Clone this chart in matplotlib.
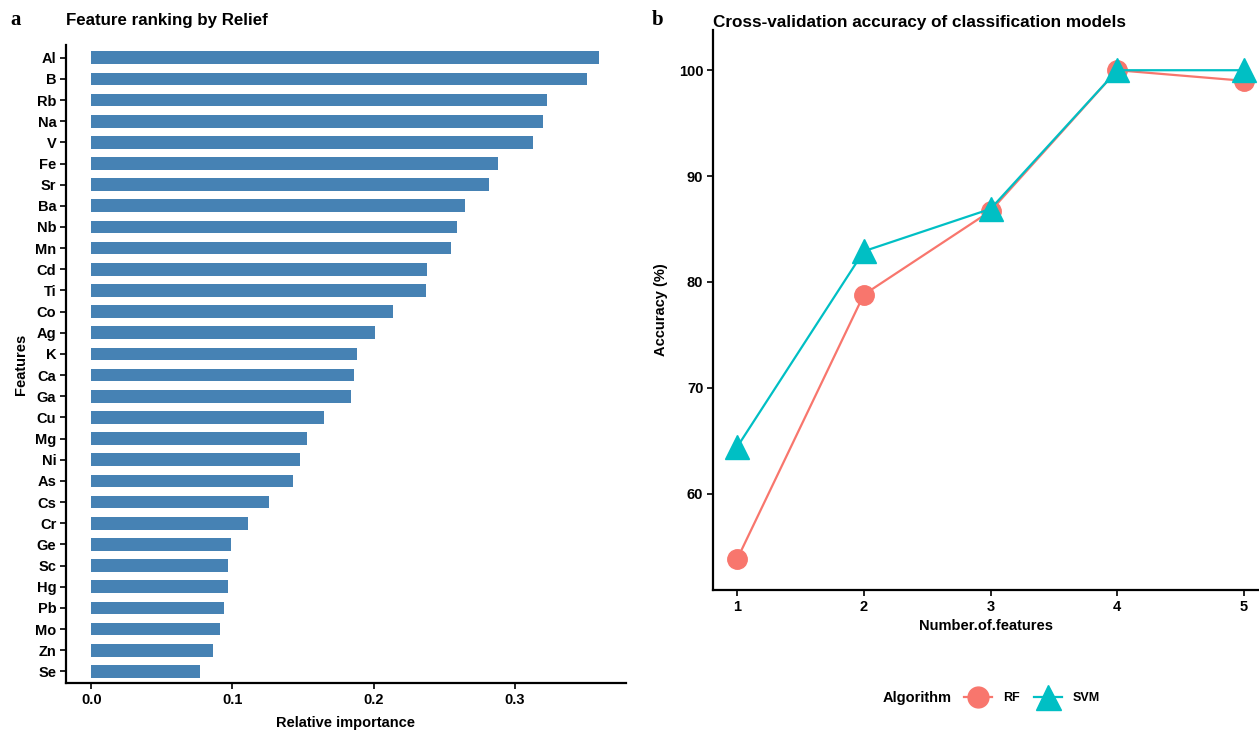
import matplotlib.pyplot as plt
from matplotlib.lines import Line2D

# feature ranking by Relief (panel a)
features = ["Al", "B", "Rb", "Na", "V", "Fe", "Sr", "Ba", "Nb", "Mn", "Cd", "Ti", "Co", "Ag", "K",
            "Ca", "Ga", "Cu", "Mg", "Ni", "As", "Cs", "Cr", "Ge", "Sc", "Hg", "Pb", "Mo", "Zn", "Se"]
importance = [0.360, 0.351, 0.323, 0.320, 0.313, 0.288, 0.282, 0.265, 0.259, 0.255, 0.238, 0.237,
              0.214, 0.201, 0.188, 0.186, 0.184, 0.165, 0.153, 0.148, 0.143, 0.126, 0.111, 0.099,
              0.097, 0.097, 0.094, 0.091, 0.086, 0.077]

# cross-validation accuracy (panel b)
n_features = [1, 2, 3, 4, 5]
acc_rf = [53.8, 78.8, 86.7, 100.0, 99.0]
acc_svm = [64.4, 82.9, 86.9, 100.0, 100.0]

RF_COL = "#F8766D"
SVM_COL = "#00BFC4"
BAR_COL = "#4682B4"

plt.rcParams["font.family"] = ["Liberation Sans", "DejaVu Sans"]
plt.rcParams["font.weight"] = "bold"

W, H = 1259, 730
fig = plt.figure(figsize=(W / 100, H / 100), dpi=100)


def px_axes(x0, y0, x1, y1):
    return fig.add_axes([x0 / W, 1 - y1 / H, (x1 - x0) / W, (y1 - y0) / H])


def style(ax):
    for s in ["top", "right"]:
        ax.spines[s].set_visible(False)
    for s in ["left", "bottom"]:
        ax.spines[s].set_linewidth(1.6)
    ax.tick_params(length=4, width=1.2, labelsize=10.5, pad=3)
    for lab in ax.get_xticklabels() + ax.get_yticklabels():
        lab.set_fontweight("bold")


# ---- panel a
ax1 = px_axes(66, 45, 626, 683)
ypos = list(range(len(features)))
ax1.barh(ypos, importance, height=0.6, color=BAR_COL)
ax1.set_yticks(ypos)
ax1.set_yticklabels(features)
ax1.set_ylim(len(features) - 0.45, -0.6)
ax1.set_xlim(-0.018, 0.379)
ax1.set_xticks([0.0, 0.1, 0.2, 0.3])
ax1.set_xticklabels(["0.0", "0.1", "0.2", "0.3"])
style(ax1)
ax1.set_xlabel("Relative importance", fontsize=10.5, fontweight="bold", labelpad=7)
ax1.set_ylabel("Features", fontsize=10.5, fontweight="bold", labelpad=5)

fig.text(66 / W, 1 - 20 / H, "Feature ranking by Relief", fontsize=12.2, fontweight="bold",
         va="center", ha="left")
fig.text(10 / W, 1 - 20 / H, "a", fontsize=15, fontweight="bold", family="Liberation Serif",
         va="center", ha="left")

# ---- panel b
ax2 = px_axes(713, 30, 1258, 590)
ax2.plot(n_features, acc_rf, color=RF_COL, lw=1.6, marker="o", ms=14, zorder=3)
ax2.plot(n_features, acc_svm, color=SVM_COL, lw=1.6, marker="^", ms=17, zorder=4)
ax2.set_xlim(0.81, 5.11)
ax2.set_ylim(50.9, 103.8)
ax2.set_xticks(n_features)
ax2.set_yticks([60, 70, 80, 90, 100])
style(ax2)
ax2.set_xlabel("Number.of.features", fontsize=10.5, fontweight="bold", labelpad=4)
ax2.set_ylabel("Accuracy (%)", fontsize=10.5, fontweight="bold", labelpad=8)

fig.text(713 / W, 1 - 22 / H, "Cross-validation accuracy of classification models", fontsize=12.3,
         fontweight="bold", va="center", ha="left")
fig.text(652 / W, 1 - 20 / H, "b", fontsize=15, fontweight="bold", family="Liberation Serif",
         va="center", ha="left")

# legend: title to the left of the keys, as in ggplot's bottom legend
fig.text(883 / W, 1 - 698 / H, "Algorithm", fontsize=10.5, fontweight="bold",
         va="center", ha="left")
handles = [Line2D([], [], color=RF_COL, lw=1.6, marker="o", ms=15),
           Line2D([], [], color=SVM_COL, lw=1.6, marker="^", ms=18)]
leg = fig.legend(handles, ["RF", "SVM"], loc="center left",
                 bbox_to_anchor=(964 / W, 1 - 698 / H), ncol=2, frameon=False,
                 fontsize=9, handlelength=2.2, columnspacing=1.2, handletextpad=0.9,
                 borderpad=0, borderaxespad=0)
for t in leg.get_texts():
    t.set_fontweight("bold")

fig.savefig("out.png", dpi=100)
